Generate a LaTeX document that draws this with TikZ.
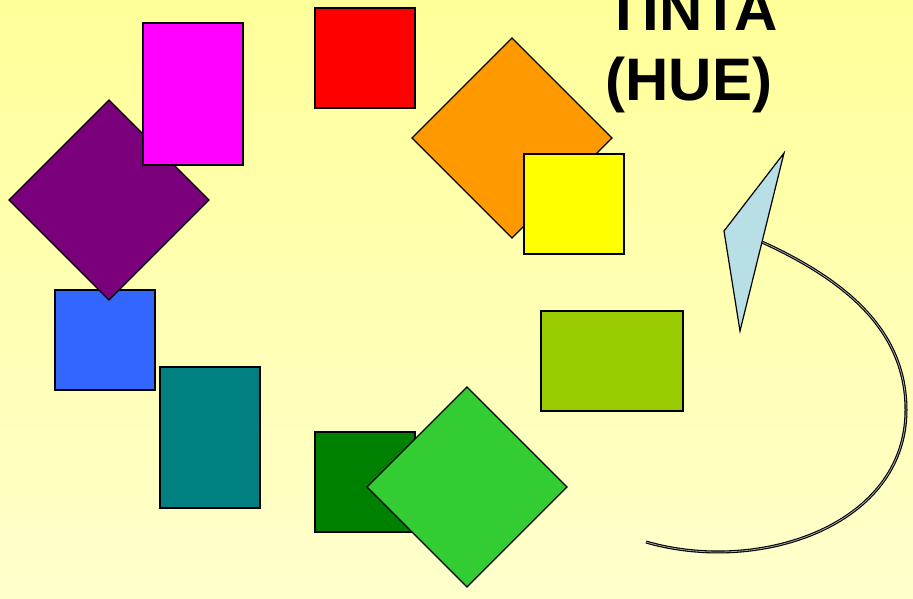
\documentclass[tikz,border=0pt]{standalone}
\usepackage{fontspec}
\setmainfont{Liberation Sans}
\usetikzlibrary{shapes.geometric}
\definecolor{bgtop}{HTML}{FFFF99}
\definecolor{bgbot}{HTML}{FFFFCC}
\definecolor{cmag}{HTML}{FF00FF}
\definecolor{cred}{HTML}{FF0000}
\definecolor{cpurple}{HTML}{7B007B}
\definecolor{corange}{HTML}{FF9900}
\definecolor{cyellow}{HTML}{FFFF00}
\definecolor{cblue}{HTML}{3366FF}
\definecolor{cteal}{HTML}{008080}
\definecolor{cdkgreen}{HTML}{008000}
\definecolor{cgreen}{HTML}{33CC33}
\definecolor{cyg}{HTML}{99CC00}
\definecolor{clb}{HTML}{B8DEE6}
\tikzset{
  box/.style={draw=black, line width=1.2pt, rectangle, inner sep=0pt, outer sep=0pt},
  dia/.style={draw=black, line width=1.2pt, diamond, inner sep=0pt, outer sep=0pt, minimum width=200pt, minimum height=200pt},
  title/.style={font=\fontsize{60}{70}\selectfont\bfseries, anchor=base, inner sep=0pt}
}
\begin{document}
\begin{tikzpicture}[x=1pt,y=-1pt]
\shade[top color=bgtop, bottom color=bgbot] (0,0) rectangle (913,598);
\useasboundingbox (0,0) rectangle (913,598);
% blue, purple, magenta
\node[box, fill=cblue, minimum width=100pt, minimum height=100pt] (blue) at (105,340) {};
\node[dia, fill=cpurple] (purple) at (109,200) {};
\node[box, fill=cmag, minimum width=100pt, minimum height=142pt] (magenta) at (193,94) {};
\node[box, fill=cred, minimum width=100pt, minimum height=100pt] (red) at (365,58) {};
\node[dia, fill=corange] (orange) at (512,138) {};
\node[box, fill=cyellow, minimum width=100pt, minimum height=100pt] (yellow) at (574,204) {};
\node[box, fill=cteal, minimum width=100pt, minimum height=141pt] (teal) at (210,437.5) {};
\node[box, fill=cdkgreen, minimum width=100pt, minimum height=100pt] (dkgreen) at (365,482) {};
\node[dia, fill=cgreen] (green) at (467,487) {};
\node[box, fill=cyg, minimum width=142pt, minimum height=100pt] (yg) at (612,361) {};
% title
\node[title] (tinta) at (692,30) {TINTA};
\node[title] (hue) at (689,100) {(HUE)};
% arrow
\coordinate (tip) at (784,153);
\coordinate (left) at (724,231);
\coordinate (bot) at (740,331);
\coordinate (start) at (646,542);
\coordinate (mid) at (906,410);
\coordinate (end) at (762,242);
\draw[line width=1.1pt, double=gray!70, double distance=0.8pt]
  (start) .. controls (760,575) and (906,525) .. (mid)
  .. controls (906,330) and (845,280) .. (end);
\draw[line width=1.2pt, fill=clb, line join=miter] (tip) -- (left) -- (bot) -- cycle;
\end{tikzpicture}
\end{document}
